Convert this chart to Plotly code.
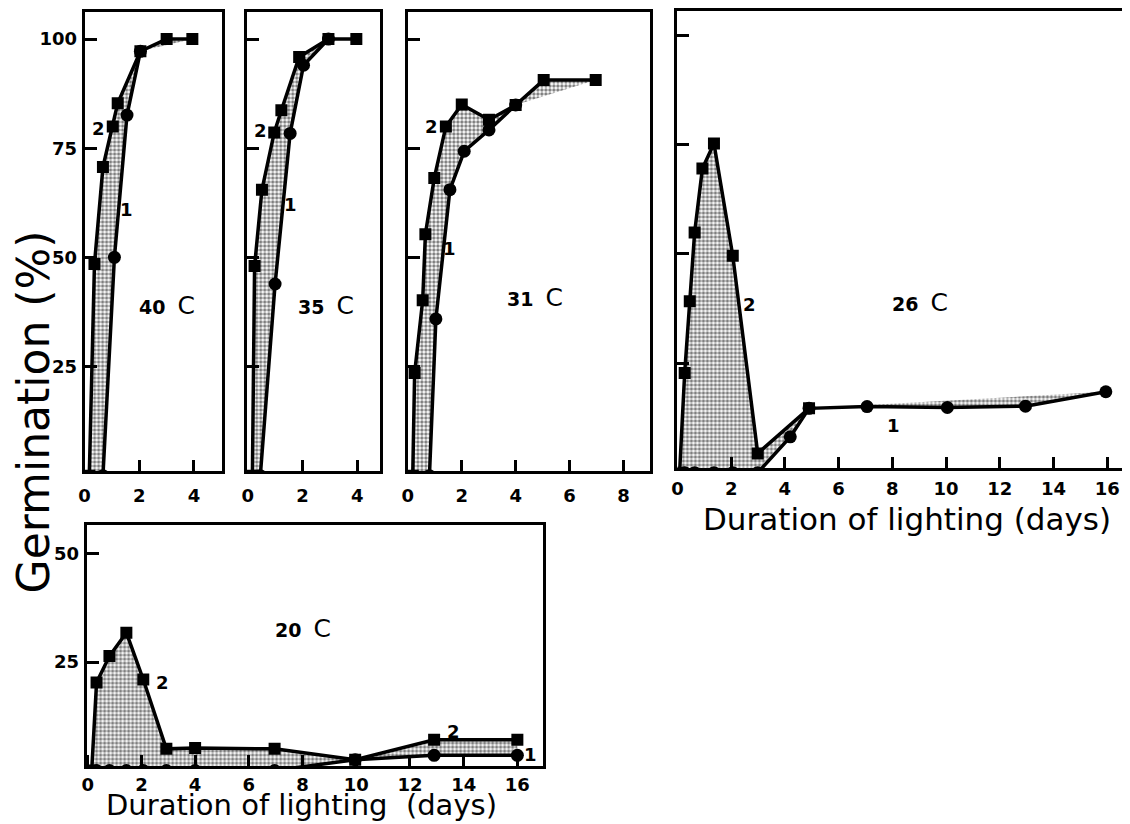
import plotly.graph_objects as go

# ---------------- data (days of lighting, germination %) ----------------
# curve 2 = squares, curve 1 = circles
days_40_c2 = [0.17, 0.36, 0.67, 1.03, 1.21, 2.04, 3.0, 3.94]
germ_40_c2 = [0, 48.5, 70.7, 80, 85.3, 97.2, 100, 100]
days_40_c1 = [0.67, 1.09, 1.55, 2.04]
germ_40_c1 = [0, 50, 82.6, 97.2]

days_35_c2 = [0.17, 0.25, 0.52, 0.97, 1.23, 1.88, 2.95, 3.97]
germ_35_c2 = [0, 48, 65.5, 78.6, 83.7, 95.9, 100, 100]
days_35_c1 = [0.46, 1.0, 1.55, 2.04, 2.95]
germ_35_c1 = [0, 43.9, 78.4, 94, 100]

days_31_c2 = [0.18, 0.25, 0.55, 0.65, 0.98, 1.41, 2.0, 3.01, 4.0, 5.04, 6.97]
germ_31_c2 = [0, 23.5, 40.2, 55.3, 68.2, 80, 85, 81.5, 84.9, 90.6, 90.6]
days_31_c1 = [0.8, 1.04, 1.56, 2.09, 3.01, 4.0]
germ_31_c1 = [0, 35.9, 65.5, 74.3, 79.2, 84.9]

days_26_c2 = [0.08, 0.27, 0.46, 0.64, 0.93, 1.36, 2.06, 2.99, 4.9]
germ_26_c2 = [0, 22.8, 39.2, 54.9, 69.5, 75.2, 49.6, 4.4, 14.7]
days_26_c1 = [0.27, 0.64, 1.36, 2.06, 2.99, 4.2, 4.9, 7.06, 10.05, 12.96, 15.95]
germ_26_c1 = [0, 0, 0, 0, 0, 8.2, 14.7, 15.1, 14.9, 15.2, 18.5]

days_20_c2 = [0.15, 0.33, 0.81, 1.44, 2.07, 2.93, 4.0, 6.96, 9.96, 12.9, 16.0]
germ_20_c2 = [0, 20.3, 26.4, 31.8, 21.0, 5.0, 5.2, 5.0, 2.5, 7.1, 7.1]
days_20_c1 = [0.33, 0.81, 1.44, 2.07, 2.93, 4.0, 6.96, 9.96, 12.9, 16.0]
germ_20_c1 = [0, 0, 0, 0, 0, 0, 0, 2.5, 3.5, 3.5]

panel_titles = ["40", "35", "31", "26", "20"]
x_ticks_short = [0, 2, 4]
x_ticks_31 = [0, 2, 4, 6, 8]
x_ticks_long = [0, 2, 4, 6, 8, 10, 12, 14, 16]
y_ticks_top = [25, 50, 75, 100]
y_ticks_bottom = [25, 50]

# page has an 8px body margin: the figure is drawn 8px right/down
OFF = 8
W, H = 1130 - OFF, 824 - OFF
FONT = "DejaVu Sans"

def fx(px):
    return (px - OFF) / W

def fy(py):
    return 1 - (py - OFF) / H

panels = [
    dict(ax="", c2=(days_40_c2, germ_40_c2), c1=(days_40_c1, germ_40_c1),
         xd=[fx(79), fx(217)], yd=[fy(470), fy(9)], xr=[0, 5.02], yr=[1, 106.2],
         xt=x_ticks_short, yt=y_ticks_top, ylab=True, mirror_y=True, stand=6,
         title=panel_titles[0], tpos=(3.0, 39),
         labels=[("2", 0.5, 79.5), ("1", 1.53, 61)]),
    dict(ax="2", c2=(days_35_c2, germ_35_c2), c1=(days_35_c1, germ_35_c1),
         xd=[fx(242), fx(376)], yd=[fy(470), fy(9)], xr=[-0.036, 4.836], yr=[1, 106.2],
         xt=x_ticks_short, yt=y_ticks_top, ylab=False, mirror_y=True, stand=6,
         title=panel_titles[1], tpos=(2.87, 39),
         labels=[("2", 0.45, 79), ("1", 1.56, 62)]),
    dict(ax="3", c2=(days_31_c2, germ_31_c2), c1=(days_31_c1, germ_31_c1),
         xd=[fx(404), fx(647)], yd=[fy(470), fy(9)], xr=[0, 8.97], yr=[1, 106.2],
         xt=x_ticks_31, yt=y_ticks_top, ylab=False, mirror_y=True, stand=6,
         title=panel_titles[2], tpos=(4.72, 40.8),
         labels=[("2", 0.89, 80), ("1", 1.55, 52)]),
    dict(ax="4", c2=(days_26_c2, germ_26_c2), c1=(days_26_c1, germ_26_c1),
         xd=[fx(675), 1.0], yd=[fy(467), fy(8)], xr=[0, 16.85], yr=[1, 105.5],
         xt=x_ticks_long, yt=y_ticks_top, ylab=False, mirror_y=False, stand=2,
         title=panel_titles[3], tpos=(9.04, 38.9),
         labels=[("2", 2.7, 38.4), ("1", 8.04, 10.8)]),
    dict(ax="5", c2=(days_20_c2, germ_20_c2), c1=(days_20_c1, germ_20_c1),
         xd=[fx(81), fx(540)], yd=[fy(766), fy(524)], xr=[-0.04, 16.96], yr=[1, 56.6],
         xt=x_ticks_long, yt=y_ticks_bottom, ylab=True, mirror_y=True, stand=0,
         title=panel_titles[4], tpos=(8.0, 32.8),
         labels=[("2", 2.78, 20.4), ("2", 13.63, 8.9), ("1", 16.48, 3.7)]),
]

fig = go.Figure()
annotations = []
layout_axes = {}

for p in panels:
    xa = "x" + p["ax"]
    ya = "y" + p["ax"]
    d2, g2 = p["c2"]
    d1, g1 = p["c1"]
    # shaded band between curve 2 and curve 1
    fig.add_trace(go.Scatter(
        x=list(d2) + list(d1)[::-1], y=list(g2) + list(g1)[::-1],
        xaxis=xa, yaxis=ya, mode="lines", fill="toself",
        fillcolor="white",
        fillpattern=dict(shape=".", fgcolor="black", bgcolor="white",
                         size=4, solidity=0.55),
        line=dict(width=0), hoverinfo="skip"))
    fig.add_trace(go.Scatter(
        x=d1, y=g1, xaxis=xa, yaxis=ya, mode="lines+markers",
        line=dict(color="black", width=3.5),
        marker=dict(symbol="circle", size=13, color="black")))
    fig.add_trace(go.Scatter(
        x=d2, y=g2, xaxis=xa, yaxis=ya, mode="lines+markers",
        line=dict(color="black", width=3.5),
        marker=dict(symbol="square", size=12, color="black")))

    key = p["ax"]
    layout_axes["xaxis" + key] = dict(
        domain=p["xd"], range=p["xr"], anchor=ya,
        tickvals=p["xt"], ticktext=[str(v) for v in p["xt"]],
        showline=True, linewidth=3, linecolor="black", mirror=True,
        ticks="inside", ticklen=11, tickwidth=2.5, tickcolor="black",
        showgrid=False, zeroline=False, ticklabelstandoff=p["stand"],
        tickfont=dict(family=FONT, size=18, color="black", weight=700),
        fixedrange=True)
    layout_axes["yaxis" + key] = dict(
        domain=p["yd"], range=p["yr"], anchor=xa,
        tickvals=p["yt"], ticktext=[str(v) for v in p["yt"]],
        showticklabels=p["ylab"],
        showline=True, linewidth=3, linecolor="black", mirror=p["mirror_y"],
        ticks="inside", ticklen=12, tickwidth=2.5, tickcolor="black",
        showgrid=False, zeroline=False, ticklabelstandoff=1,
        tickfont=dict(family=FONT, size=18, color="black", weight=700),
        fixedrange=True)

    annotations.append(dict(
        x=p["tpos"][0], y=p["tpos"][1], xref=xa, yref=ya, showarrow=False,
        xanchor="center", yanchor="middle",
        text="<b>" + p["title"] + "</b>  <span style='font-size:25px;font-weight:normal'>C</span>",
        font=dict(family=FONT, size=19, color="black")))
    for txt, lx, ly in p["labels"]:
        annotations.append(dict(
            x=lx, y=ly, xref=xa, yref=ya, showarrow=False, text="<b>" + txt + "</b>",
            xanchor="center", yanchor="middle",
            font=dict(family=FONT, size=18, color="black")))

annotations.append(dict(
    x=fx(28), y=fy(410), xref="paper", yref="paper", showarrow=False,
    xanchor="center", yanchor="middle",
    text="Germination (%)", textangle=-90,
    font=dict(family=FONT, size=44, color="black")))
annotations.append(dict(
    x=fx(906), y=fy(518), xref="paper", yref="paper", showarrow=False,
    xanchor="center", yanchor="middle",
    text="Duration of lighting (days)",
    font=dict(family=FONT, size=31, color="black")))
annotations.append(dict(
    x=fx(297), y=fy(805), xref="paper", yref="paper", showarrow=False,
    xanchor="center", yanchor="middle",
    text="Duration of lighting  (days)",
    font=dict(family=FONT, size=29, color="black")))

fig.update_layout(
    width=W, height=H, margin=dict(l=0, r=0, t=0, b=0),
    paper_bgcolor="white", plot_bgcolor="white", showlegend=False,
    annotations=annotations, **layout_axes)

fig.write_html("out.html")
